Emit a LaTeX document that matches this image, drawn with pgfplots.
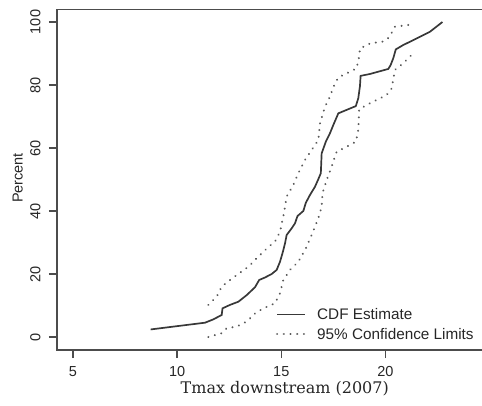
\documentclass[border=0pt]{standalone}
\usepackage{fontspec}
\setsansfont{Liberation Sans}
\newfontfamily\labelfont{DejaVu Serif}
\usepackage{pgfplots}
\usepackage{pgfplotstable}
\pgfplotsset{compat=1.18}

\definecolor{framegray}{gray}{0.30}
\definecolor{curvegray}{gray}{0.22}
\definecolor{dotgray}{gray}{0.35}

% empirical CDF and its pointwise 95% limits
\pgfplotstableread{
x y
8.73 2.4
11.34 4.55
11.74 5.6
12.14 7.0
12.18 9.1
12.54 10.2
12.94 11.2
13.34 13.3
13.74 15.8
13.94 18.1
14.22 18.9
14.54 20.0
14.78 21.3
14.94 23.9
15.06 26.6
15.18 29.7
15.26 32.4
15.50 34.5
15.66 36.1
15.78 38.4
16.06 40.0
16.18 42.6
16.38 45.1
16.62 47.7
16.78 50.1
16.90 52.0
16.94 58.3
17.14 62.0
17.34 64.7
17.50 67.3
17.74 71.0
18.14 72.1
18.58 73.3
18.70 75.8
18.78 79.7
18.81 82.9
19.26 83.5
20.14 85.1
20.25 86.3
20.38 88.5
20.50 91.3
20.86 92.7
21.42 94.5
22.14 96.9
22.74 100.0
}\cdftab

\pgfplotstableread{
x y
11.50 10.2
11.90 12.8
12.14 16.0
12.54 18.1
13.02 20.4
13.42 22.3
13.82 25.0
14.30 28.1
14.70 30.3
14.94 33.4
15.13 39.3
15.26 44.6
15.58 48.3
15.82 52.0
16.14 56.2
16.46 59.4
16.78 62.5
16.86 67.8
17.10 73.1
17.34 76.3
17.50 79.3
17.74 82.4
18.14 83.7
18.62 85.3
18.74 89.0
18.78 91.6
19.26 93.2
19.90 93.8
20.18 95.1
20.46 98.5
21.26 99.2
}\uppertab

\pgfplotstableread{
x y
11.50 0.0
12.14 1.2
12.38 2.8
12.86 3.3
13.34 4.9
13.74 7.5
14.14 9.1
14.70 10.7
14.94 13.9
15.10 18.1
15.42 21.3
15.82 23.9
16.18 28.1
16.46 32.4
16.78 37.7
16.94 41.4
16.98 45.6
17.18 49.8
17.42 54.1
17.66 58.8
18.14 60.4
18.58 62.0
18.70 65.7
18.74 72.3
19.26 74.2
20.06 76.8
20.30 78.9
20.46 84.8
20.86 86.9
21.34 90.1
}\lowertab

\begin{document}
\begin{tikzpicture}
\begin{axis}[
  scale only axis, width=432.2pt, height=340.4pt,
  xmin=4.246, xmax=25, ymin=-4.03, ymax=104.03,
  axis line style={line width=1.6pt, color=framegray},
  xtick={5,10,15,20}, ytick={0,20,...,100},
  xtick pos=bottom, ytick pos=left,
  tick align=outside, major tick length=8.5pt,
  tick style={line width=1.3pt, color=framegray},
  /pgf/number format/assume math mode=true,
  ticklabel style={font=\sffamily\fontsize{14.5}{16}\selectfont, text=black!85},
  yticklabel style={rotate=90, anchor=base, inner sep=0pt, yshift=8.5pt},
  xticklabel style={anchor=north, inner sep=0pt, yshift=-8pt},
  xlabel={Tmax downstream (2007)},
  ylabel={Percent},
  every axis x label/.style={at={(axis description cs:0.5264,0)}, anchor=base,
    yshift=-43.6pt, inner sep=0pt, font=\labelfont\fontsize{16}{19}\selectfont, text=black!85},
  every axis y label/.style={at={(axis description cs:0,0.5044)}, rotate=90, anchor=base,
    yshift=34.6pt, inner sep=0pt, font=\sffamily\fontsize{14.5}{16}\selectfont, text=black!85},
  legend style={draw=none, fill=none, at={(axis description cs:0.506,0.1216)},
    anchor=north west, inner sep=0pt, outer sep=0pt,
    font=\sffamily\fontsize{15.3}{17}\selectfont, text=black!85,
    nodes={inner sep=0pt}, row sep=7.2pt,
    /tikz/every odd column/.append style={column sep=11pt}},
  legend image code/.code={\draw[#1] (0pt,0pt) -- (28pt,0pt);},
  legend cell align=left,
]
\addplot[sharp plot, color=curvegray, line width=1.7pt] table {\cdftab};
\addlegendentry{CDF Estimate}
\addplot[sharp plot, color=dotgray, line width=2.2pt, line cap=round,
  dash pattern=on 0.01pt off 6.7pt] table {\uppertab};
\addlegendentry{95\% Confidence Limits}
\addplot[sharp plot, color=dotgray, line width=2.2pt, line cap=round,
  dash pattern=on 0.01pt off 6.7pt, forget plot] table {\lowertab};
\coordinate (bl) at (rel axis cs:0,0);
\end{axis}
\pgfresetboundingbox
\path[use as bounding box] ([shift={(-57.3pt,-55.3pt)}]bl) rectangle ([shift={(424.7pt,349.7pt)}]bl);
\end{tikzpicture}
\end{document}
